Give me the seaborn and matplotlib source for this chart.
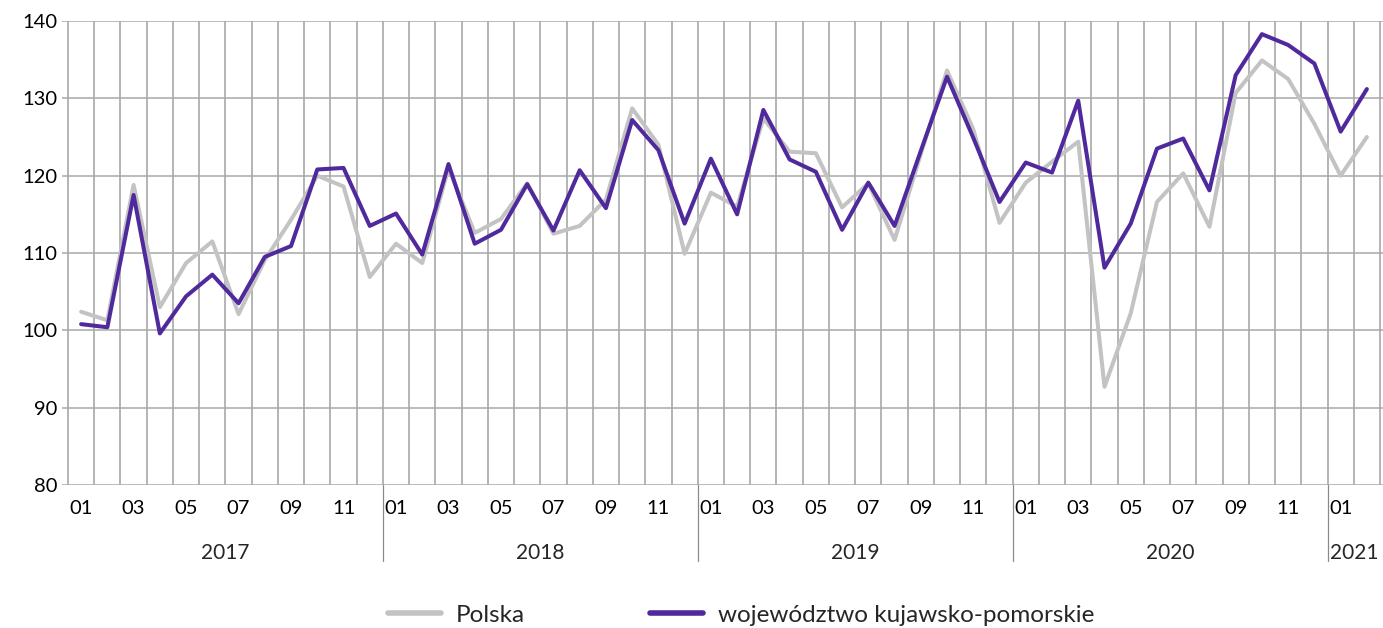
import numpy as np
import pandas as pd
import matplotlib
matplotlib.use("Agg")
import matplotlib.pyplot as plt
import seaborn as sns
from matplotlib import transforms

# ---- data -------------------------------------------------------------
years = ["2017", "2018", "2019", "2020", "2021"]
months_per_year = [12, 12, 12, 12, 2]
month_names = ["01", "02", "03", "04", "05", "06", "07", "08", "09", "10", "11", "12"]

series_names = ["Polska", "województwo kujawsko-pomorskie"]

polska = [102.4, 101.3, 118.8, 103.0, 108.7, 111.5, 102.1, 109.1, 114.3, 120.0, 118.6, 106.9,
          111.2, 108.7, 121.0, 112.6, 114.4, 119.0, 112.5, 113.5, 116.9, 128.7, 124.0, 109.9,
          117.8, 116.0, 127.4, 123.1, 122.9, 115.9, 119.0, 111.7, 122.8, 133.6, 126.0, 113.9,
          119.1, 121.8, 124.4, 92.7, 102.2, 116.6, 120.3, 113.4, 130.7, 134.9, 132.5, 126.7,
          120.0, 125.0]

kujawsko = [100.8, 100.4, 117.5, 99.6, 104.4, 107.2, 103.5, 109.5, 110.9, 120.8, 121.0, 113.5,
            115.1, 109.8, 121.5, 111.2, 113.0, 118.9, 112.9, 120.7, 115.8, 127.2, 123.3, 113.8,
            122.2, 115.0, 128.5, 122.1, 120.5, 113.0, 119.1, 113.5, 123.2, 132.8, 124.9, 116.6,
            121.7, 120.4, 129.7, 108.1, 113.8, 123.5, 124.8, 118.1, 133.0, 138.3, 136.9, 134.5,
            125.7, 131.2]

colors = {"Polska": "#c3c3c3", "województwo kujawsko-pomorskie": "#50299c"}

# ---- build frame --------------------------------------------------------
month_labels = []
for y, n in zip(years, months_per_year):
    month_labels += month_names[:n]
n_months = len(month_labels)
idx = np.arange(n_months)

df = pd.DataFrame({
    "x": np.concatenate([idx, idx]),
    "value": polska + kujawsko,
    "series": [series_names[0]] * n_months + [series_names[1]] * n_months,
})

sns.set_style("white")
plt.rcParams["font.family"] = ["Lato", "DejaVu Sans"]

W, H = 1383, 628
fig = plt.figure(figsize=(W / 100, H / 100), dpi=100)
ax = fig.add_axes([62 / W, 1 - 485 / H, (W - 62) / W, (485 - 21) / H])

sns.lineplot(data=df, x="x", y="value", hue="series", hue_order=series_names,
             palette=colors, linewidth=2.9, ax=ax, legend=True, zorder=3)

px = 26.24
ax.set_xlim(-0.5 - 6 / px, n_months - 0.5 + 3 / px)
ax.set_ylim(80, 140)
ax.set_yticks(np.arange(80, 141, 10))

grid_c = "#a8a8a8"
ax.set_xticks(np.arange(-0.5, n_months, 1), minor=True)
ax.set_xticks(idx[::2])
ax.set_xticklabels([month_labels[i] for i in idx[::2]])
ax.grid(False)
ax.yaxis.grid(True, color=grid_c, lw=1.1)
ax.xaxis.grid(True, which="minor", color="#a0a0a0", lw=1.1)
ax.set_axisbelow(True)
for s in ax.spines.values():
    s.set_visible(False)
ax.tick_params(axis="y", length=0, pad=3, labelsize=14.5, colors="#000000")
ax.tick_params(axis="x", which="major", length=0, pad=10.5, labelsize=14.5, colors="#000000")
ax.tick_params(axis="x", which="minor", length=4.5, width=1.1, color=grid_c, direction="out")
ax.set_xlabel("")
ax.set_ylabel("")

# year separators and labels
trans = transforms.blended_transform_factory(ax.transData, ax.transAxes)
start = 0
for y, n in zip(years, months_per_year):
    center = start + (n - 1) / 2
    ax.text(center, -(553 - 485) / 464, y, transform=trans, ha="center", va="center",
            fontsize=15)
    end = start + n
    if end < n_months:
        ax.plot([end - 0.5, end - 0.5], [0, -(561 - 485) / 464], transform=trans,
                clip_on=False, color="#8a8a8a", lw=0.9)
    start = end

# legend
handles, labels = ax.get_legend_handles_labels()
ax.get_legend().remove()
for h in handles:
    h.set_linewidth(4)
    h.set_solid_capstyle("round")
fig.legend(handles, labels, loc="center left", bbox_to_anchor=(388 / W, 1 - 615 / H),
           ncol=2, frameon=False, fontsize=17.5, handlelength=2.18, handletextpad=0.62,
           columnspacing=5.15, borderpad=0, borderaxespad=0)

fig.savefig("out.png", dpi=100)
